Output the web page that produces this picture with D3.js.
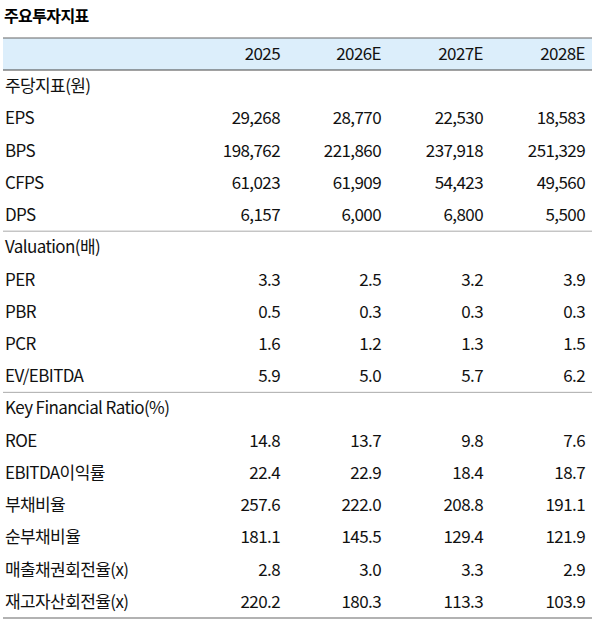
<!DOCTYPE html>
<html><head><meta charset="utf-8">
<script src="https://cdn.jsdelivr.net/npm/d3@7"></script>
<style>body{margin:0;background:#fff}text{font-family:"Noto Sans CJK KR","Noto Sans",sans-serif;letter-spacing:-0.6px}</style>
</head><body><div id="chart"></div>
<script>
var years = ["2025", "2026E", "2027E", "2028E"];
var labels = ["주당지표(원)", "EPS", "BPS", "CFPS", "DPS", "Valuation(배)", "PER", "PBR", "PCR", "EV/EBITDA",
  "Key Financial Ratio(%)", "ROE", "EBITDA이익률", "부채비율", "순부채비율", "매출채권회전율(x)", "재고자산회전율(x)"];
var values = [
  null,
  ["29,268", "28,770", "22,530", "18,583"],
  ["198,762", "221,860", "237,918", "251,329"],
  ["61,023", "61,909", "54,423", "49,560"],
  ["6,157", "6,000", "6,800", "5,500"],
  null,
  ["3.3", "2.5", "3.2", "3.9"],
  ["0.5", "0.3", "0.3", "0.3"],
  ["1.6", "1.2", "1.3", "1.5"],
  ["5.9", "5.0", "5.7", "6.2"],
  null,
  ["14.8", "13.7", "9.8", "7.6"],
  ["22.4", "22.9", "18.4", "18.7"],
  ["257.6", "222.0", "208.8", "191.1"],
  ["181.1", "145.5", "129.4", "121.9"],
  ["2.8", "3.0", "3.3", "2.9"],
  ["220.2", "180.3", "113.3", "103.9"]
];
var colRight = [280, 381, 483, 585];

var width = 595, height = 621;
var svg = d3.select("#chart").append("svg").attr("width", width).attr("height", height);

svg.append("text").attr("x", 4).attr("y", 22).attr("font-size", 16).attr("font-weight", "bold").text("주요투자지표");

var headTop = 38, headH = 32;
svg.append("rect").attr("x", 3).attr("y", headTop).attr("width", width - 6).attr("height", headH).attr("fill", "#dceefb");
svg.append("line").attr("x1", 3).attr("x2", width - 3).attr("y1", headTop).attr("y2", headTop).attr("stroke", "#666").attr("stroke-width", 1.2);
svg.append("line").attr("x1", 3).attr("x2", width - 3).attr("y1", headTop + headH).attr("y2", headTop + headH).attr("stroke", "#444").attr("stroke-width", 1.2);

years.forEach(function(y, i) {
  svg.append("text").attr("x", colRight[i]).attr("y", headTop + 22).attr("text-anchor", "end").attr("font-size", 17).attr("fill", "#111").text(y);
});

var rowY = d3.scaleBand().domain(d3.range(labels.length)).range([headTop + headH, 618]);

labels.forEach(function(l, r) {
  var yc = rowY(r) + rowY.bandwidth() / 2 + 6;
  svg.append("text").attr("x", 5).attr("y", yc).attr("font-size", 17).attr("fill", "#111").text(l);
  if (values[r]) values[r].forEach(function(v, i) {
    svg.append("text").attr("x", colRight[i]).attr("y", yc).attr("text-anchor", "end").attr("font-size", 17).attr("fill", "#111").text(v);
  });
  if (r === 5 || r === 10) {
    svg.append("line").attr("x1", 3).attr("x2", width - 3).attr("y1", rowY(r)).attr("y2", rowY(r)).attr("stroke", "#aaa").attr("stroke-width", 1);
  }
});
svg.append("line").attr("x1", 3).attr("x2", width - 3).attr("y1", 618).attr("y2", 618).attr("stroke", "#666").attr("stroke-width", 1.2);
</script></body></html>
